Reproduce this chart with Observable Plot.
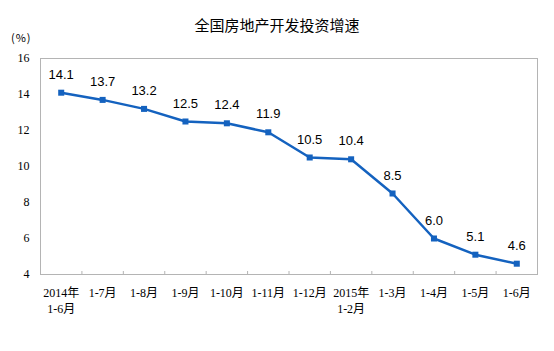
<!DOCTYPE html>
<html>
<head>
<meta charset="utf-8">
<script src="https://cdn.jsdelivr.net/npm/d3@7"></script>
<script src="https://cdn.jsdelivr.net/npm/@observablehq/plot@0.6"></script>
<style>
  body { margin: 0; background: #fff; }
  #wrap { position: relative; width: 554px; height: 351px; overflow: hidden; }
  #title { position: absolute; left: 0; width: 554px; top: 15px; text-align: center;
    font-family: "Noto Sans CJK SC", sans-serif; font-size: 15px; color: #000; line-height: 20px; }
  #unit { position: absolute; left: 11px; top: 29px; font-family: "Noto Sans CJK SC", sans-serif;
    font-size: 11px; color: #000; line-height: 16px; letter-spacing: 1px; }
  #chart { position: absolute; left: 0; top: 0; }
</style>
</head>
<body>
<div id="wrap">
  <div id="chart"></div>
  <div id="title">全国房地产开发投资增速</div>
  <div id="unit">(%)</div>
</div>
<script>
const title = "全国房地产开发投资增速";
const categories = ["2014年\n1-6月", "1-7月", "1-8月", "1-9月", "1-10月", "1-11月", "1-12月", "2015年\n1-2月", "1-3月", "1-4月", "1-5月", "1-6月"];
const growth = [14.1, 13.7, 13.2, 12.5, 12.4, 11.9, 10.5, 10.4, 8.5, 6.0, 5.1, 4.6];
const yTicks = [4, 6, 8, 10, 12, 14, 16];

const data = categories.map((c, i) => ({i: i + 0.5, label: c, value: growth[i]}));
const blue = "#1462bf";

const chart = Plot.plot({
  width: 554,
  height: 351,
  marginLeft: 40,
  marginRight: 17,
  marginTop: 58,
  marginBottom: 77,
  style: {fontFamily: "'Liberation Serif', 'Noto Sans CJK SC', serif", fontSize: "12px", color: "#000", background: "transparent"},
  x: {type: "linear", domain: [0, categories.length]},
  y: {domain: [4, 16]},
  marks: [
    Plot.frame({stroke: "#b4b4b4"}),
    Plot.axisY(yTicks, {tickSize: 0, tickPadding: 11, label: null, fontSize: 12}),
    Plot.axisX(data.map(d => d.i), {tickSize: 0, tickPadding: 11, label: null, fontSize: 12,
      tickFormat: d => categories[Math.floor(d)], lineAnchor: "top", lineHeight: 1.35}),
    Plot.ruleX(d3.range(1, categories.length), {stroke: "#b4b4b4", insetTop: 213}),
    Plot.line(data, {x: "i", y: "value", stroke: blue, strokeWidth: 2.5}),
    Plot.dot(data, {x: "i", y: "value", symbol: "square", r: 3.4, fill: blue, stroke: "none"}),
    Plot.text(data, {x: "i", y: "value", text: d => d.value.toFixed(1), dy: -18,
      fontFamily: "'Liberation Sans', Arial, sans-serif", fontSize: 13, fill: "#000"})
  ]
});
document.getElementById("chart").appendChild(chart);
</script>
</body>
</html>
